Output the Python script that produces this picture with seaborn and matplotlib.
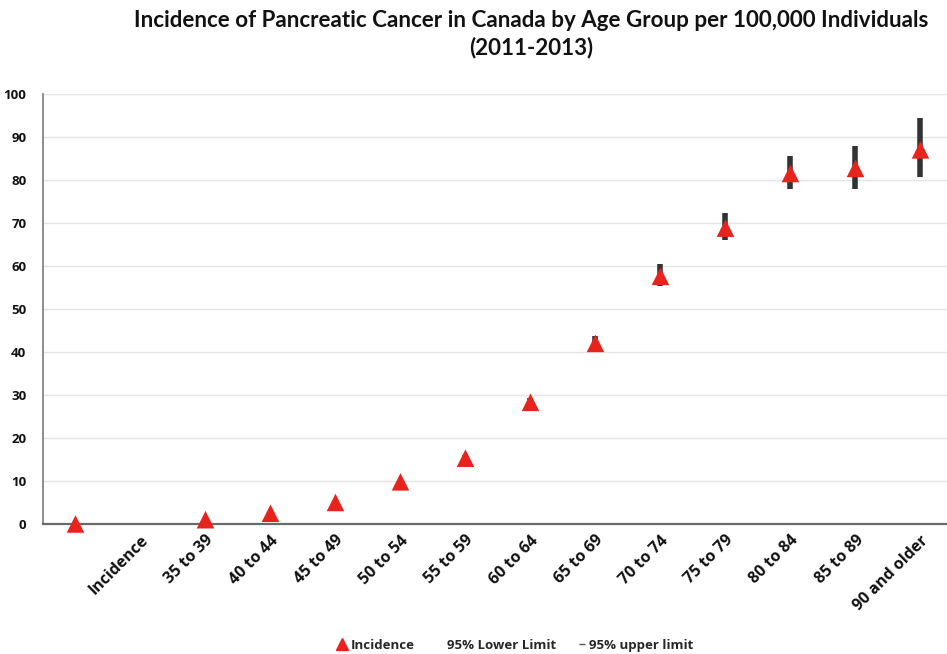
import matplotlib
matplotlib.use("Agg")
import matplotlib.pyplot as plt
from matplotlib.lines import Line2D
import seaborn as sns
import numpy as np
import pandas as pd

# values (per 100,000)
categories = ["", "Incidence", "35 to 39", "40 to 44", "45 to 49", "50 to 54", "55 to 59",
              "60 to 64", "65 to 69", "70 to 74", "75 to 79", "80 to 84", "85 to 89", "90 and older"]
incidence = [0, np.nan, 1.0, 2.5, 5.0, 9.8, 15.3, 28.3, 42.0, 57.6, 68.8, 81.5, 82.7, 87.0]
lower_95 = [0, np.nan, 0.8, 2.2, 4.6, 9.3, 14.6, 27.4, 40.6, 55.4, 66.0, 78.0, 78.0, 80.6]
upper_95 = [0, np.nan, 1.2, 2.8, 5.4, 10.3, 16.0, 29.2, 43.7, 60.4, 72.3, 85.6, 88.0, 94.3]

df = pd.DataFrame({"Group": categories, "Incidence": incidence,
                   "Lower": lower_95, "Upper": upper_95})
df["x"] = np.arange(len(df))

sns.set_style("white")
plt.rcParams["font.family"] = ["Open Sans", "DejaVu Sans"]

fig = plt.figure(figsize=(9.47, 6.54), dpi=100)
ax = fig.add_axes([0.0454, 0.1988, 0.9609, 0.6575])

# high-low lines for the 95% interval
ax.vlines(df["x"], df["Lower"], df["Upper"], colors="#333333", linewidth=4, zorder=2)

sns.scatterplot(data=df, x="x", y="Incidence", marker="^", s=160, color="#e8231d",
                edgecolor="none", ax=ax, zorder=3, clip_on=False, legend=False)

ax.set_xlim(-0.5, 13.5)
ax.set_ylim(0, 100)
ax.set_yticks(range(0, 101, 10))
ax.set_xticks(df["x"])
ax.set_xticklabels(df["Group"], rotation=45, ha="right", rotation_mode="anchor",
                   fontsize=11.5, fontweight="bold", color="#111111")
for lab in ax.get_xticklabels():
    lab.set_transform(lab.get_transform() + matplotlib.transforms.ScaledTranslation(0.07, -0.14, fig.dpi_scale_trans))
ax.tick_params(axis="y", labelsize=9.5, length=0, pad=12)
ax.tick_params(axis="x", length=0, pad=6)
for lab in ax.get_yticklabels():
    lab.set_fontweight("bold")
    lab.set_color("#111111")
ax.set_xlabel("")
ax.set_ylabel("")
ax.yaxis.grid(True, color="#e4e4e4", linewidth=1)
ax.set_axisbelow(True)
for side in ["top", "right"]:
    ax.spines[side].set_visible(False)
ax.spines["left"].set_color("#7a7a7a")
ax.spines["left"].set_linewidth(1.2)
ax.spines["bottom"].set_color("#6a6a6a")
ax.spines["bottom"].set_linewidth(1.6)

fig.text(0.561, 0.985, "Incidence of Pancreatic Cancer in Canada by Age Group per 100,000 Individuals\n(2011-2013)",
         ha="center", va="top", fontsize=16.1, fontweight="bold", family=["Lato", "DejaVu Sans"],
         linespacing=1.35, color="#111111")

handles = [
    Line2D([], [], marker="^", color="#e8231d", linestyle="none", markersize=8),
    Line2D([], [], linestyle="none"),
    Line2D([], [], marker="_", color="#555555", linestyle="none", markersize=4),
]
labels = ["Incidence", "95% Lower Limit", "95% upper limit"]
fig.legend(handles, labels, loc="center", bbox_to_anchor=(0.545, 0.013), ncol=3, frameon=False,
           prop={"weight": "bold", "size": 9.5}, handlelength=0.6, handletextpad=0.3, columnspacing=1.6)

fig.savefig("out.png", dpi=100)
